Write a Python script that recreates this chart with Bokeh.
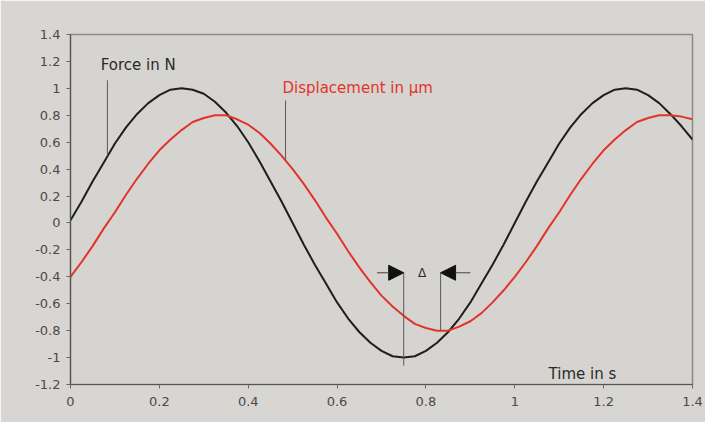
from bokeh.plotting import figure
from bokeh.models import (FixedTicker, CustomJSTickFormatter, Label, Arrow,
                          NormalHead, ColumnDataSource)
from bokeh.embed import file_html
from bokeh.resources import INLINE

# ---- data ----
time_s = [0.000, 0.025, 0.050, 0.075, 0.100, 0.125, 0.150, 0.175, 0.200, 0.225,
          0.250, 0.275, 0.300, 0.325, 0.350, 0.375, 0.400, 0.425, 0.450, 0.475,
          0.500, 0.525, 0.550, 0.575, 0.600, 0.625, 0.650, 0.675, 0.700, 0.725,
          0.750, 0.775, 0.800, 0.825, 0.850, 0.875, 0.900, 0.925, 0.950, 0.975,
          1.000, 1.025, 1.050, 1.075, 1.100, 1.125, 1.150, 1.175, 1.200, 1.225,
          1.250, 1.275, 1.300, 1.325, 1.350, 1.375, 1.400]
force_n = [0.02, 0.16, 0.31, 0.45, 0.59, 0.71, 0.81, 0.89, 0.95, 0.99,
           1.00, 0.99, 0.96, 0.90, 0.82, 0.72, 0.60, 0.46, 0.31, 0.16,
           0.00, -0.16, -0.31, -0.45, -0.59, -0.71, -0.81, -0.89, -0.95, -0.99,
           -1.00, -0.99, -0.95, -0.89, -0.81, -0.71, -0.59, -0.45, -0.31, -0.16,
           0.00, 0.16, 0.31, 0.45, 0.59, 0.71, 0.81, 0.89, 0.95, 0.99,
           1.00, 0.99, 0.95, 0.89, 0.81, 0.72, 0.62]
displacement_um = [-0.40, -0.29, -0.17, -0.04, 0.08, 0.21, 0.33, 0.44, 0.54, 0.62,
                   0.69, 0.75, 0.78, 0.80, 0.80, 0.77, 0.73, 0.67, 0.59, 0.50,
                   0.40, 0.29, 0.17, 0.04, -0.08, -0.21, -0.33, -0.44, -0.54, -0.62,
                   -0.69, -0.75, -0.78, -0.80, -0.80, -0.77, -0.73, -0.67, -0.59, -0.50,
                   -0.40, -0.29, -0.17, -0.04, 0.08, 0.21, 0.33, 0.44, 0.54, 0.62,
                   0.69, 0.75, 0.78, 0.80, 0.80, 0.79, 0.77]

x_ticks = [0.0, 0.2, 0.4, 0.6, 0.8, 1.0, 1.2, 1.4]
y_ticks = [-1.2, -1.0, -0.8, -0.6, -0.4, -0.2, 0.0, 0.2, 0.4, 0.6, 0.8, 1.0, 1.2, 1.4]

force_label = "Force in N"
disp_label = "Displacement in µm"
time_label = "Time in s"
delta_label = "Δ"

# annotation anchors (data units)
force_leader = (0.083, 1.06, 0.50)     # x, y_top, y_bottom
disp_leader = (0.484, 0.91, 0.47)
force_min_t = 0.75
disp_min_t = 0.833
delta_y = -0.37

BG = "#d8d6d2"
TXT = "#4a4a4a"
RED = "#e4332b"
FONT = "DejaVu Sans"

p = figure(width=705, height=422, x_range=(0, 1.4), y_range=(-1.2, 1.4),
           output_backend="svg", toolbar_location=None,
           min_border_left=70, min_border_right=13,
           min_border_top=34, min_border_bottom=38)

p.background_fill_color = "#d6d4d0"
p.border_fill_color = BG
p.outline_line_color = "#8a8a88"
p.outline_line_width = 1.5
p.xgrid.visible = False
p.ygrid.visible = False

fmt = CustomJSTickFormatter(code="return tick.toFixed(1).replace(/\\.0$/, '');")
for ax, ticks in ((p.xaxis[0], x_ticks), (p.yaxis[0], y_ticks)):
    ax.ticker = FixedTicker(ticks=ticks)
    ax.formatter = fmt
    ax.axis_line_color = "#555555"
    ax.axis_line_width = 1.2
    ax.major_tick_line_color = "#666666"
    ax.major_tick_out = 4
    ax.major_tick_in = 0
    ax.minor_tick_line_color = None
    ax.major_label_text_font = FONT
    ax.major_label_text_font_size = "13px"
    ax.major_label_text_color = TXT
p.xaxis[0].major_label_standoff = 8
p.yaxis[0].major_label_standoff = 6

# curves
p.line(time_s, force_n, line_color="#1e1e1e", line_width=2)
p.line(time_s, displacement_um, line_color=RED, line_width=2)

# leader lines
lead = ColumnDataSource(dict(
    x0=[force_leader[0], disp_leader[0], force_min_t, disp_min_t],
    y0=[force_leader[1], disp_leader[1], delta_y, delta_y],
    x1=[force_leader[0], disp_leader[0], force_min_t, disp_min_t],
    y1=[force_leader[2], disp_leader[2], -1.06, -0.80],
))
p.segment("x0", "y0", "x1", "y1", source=lead, line_color="#5a5a5a", line_width=1)

# delta arrows
p.add_layout(Arrow(x_start=0.69, y_start=delta_y, x_end=force_min_t, y_end=delta_y,
                   line_color="#444444", line_width=1,
                   end=NormalHead(size=15, fill_color="#111111", line_color="#111111")))
p.add_layout(Arrow(x_start=0.90, y_start=delta_y, x_end=disp_min_t, y_end=delta_y,
                   line_color="#444444", line_width=1,
                   end=NormalHead(size=15, fill_color="#111111", line_color="#111111")))

# labels
p.add_layout(Label(x=0.068, y=1.17, text=force_label, text_font=FONT,
                   text_font_size="15px", text_color="#2a2a2a", text_baseline="middle"))
p.add_layout(Label(x=0.477, y=1.0, text=disp_label, text_font=FONT,
                   text_font_size="15px", text_color=RED, text_baseline="middle"))
p.add_layout(Label(x=1.076, y=-1.12, text=time_label, text_font=FONT,
                   text_font_size="15px", text_color="#2a2a2a", text_baseline="middle"))
p.add_layout(Label(x=(force_min_t + disp_min_t) / 2, y=delta_y, text=delta_label,
                   text_font=FONT, text_font_size="12px", text_color="#2a2a2a",
                   text_baseline="middle", text_align="center"))

open("out.html", "w").write(file_html(p, INLINE))
